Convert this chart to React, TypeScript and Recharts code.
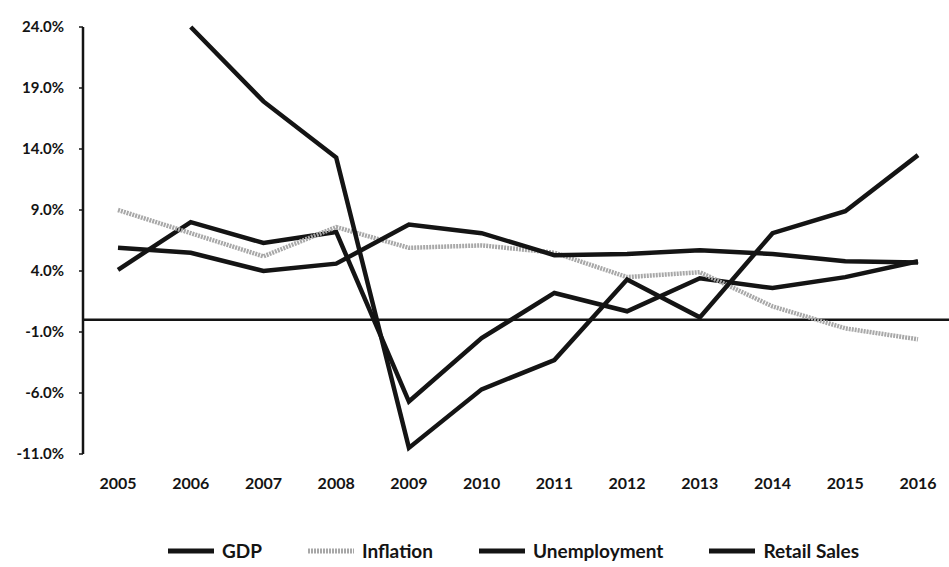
import React from "react";
import {
  LineChart,
  Line,
  XAxis,
  YAxis,
  Legend,
  ReferenceLine,
} from "recharts";

const years = ["2005", "2006", "2007", "2008", "2009", "2010", "2011", "2012", "2013", "2014", "2015", "2016"];
const gdp = [4.1, 8.0, 6.3, 7.2, -6.7, -1.5, 2.2, 0.7, 3.4, 2.6, 3.5, 4.8];
const inflation = [9.0, 7.1, 5.2, 7.6, 5.9, 6.1, 5.5, 3.5, 3.9, 1.1, -0.7, -1.6];
const unemployment = [5.9, 5.5, 4.0, 4.6, 7.8, 7.1, 5.3, 5.4, 5.7, 5.4, 4.8, 4.7];
const retailSales = [null, 24.0, 17.9, 13.3, -10.5, -5.7, -3.3, 3.3, 0.2, 7.1, 8.9, 13.5];
const yTicks = [-11, -6, -1, 4, 9, 14, 19, 24];

const data = years.map((year, i) => ({
  year,
  gdp: gdp[i],
  inflation: inflation[i],
  unemployment: unemployment[i],
  retailSales: retailSales[i],
}));

const FONT = "Lato, 'DejaVu Sans', sans-serif";
const INK = "#141414";

const series = [
  { key: "gdp", name: "GDP", color: INK, dash: undefined },
  { key: "inflation", name: "Inflation", color: "#a8a8a8", dash: "2 1" },
  { key: "unemployment", name: "Unemployment", color: INK, dash: undefined },
  { key: "retailSales", name: "Retail Sales", color: INK, dash: undefined },
];

function LegendContent() {
  return (
    <div
      style={{
        display: "flex",
        justifyContent: "center",
        gap: 46,
        fontFamily: FONT,
        fontSize: 19,
        fontWeight: 700,
        lineHeight: "24px",
        color: INK,
        paddingLeft: 78,
      }}
    >
      {series.map((s) => (
        <div key={s.key} style={{ display: "flex", alignItems: "center", gap: 8 }}>
          <svg width={46} height={8}>
            <line x1={0} y1={4} x2={46} y2={4} stroke={s.color} strokeWidth={5} strokeDasharray={s.dash} />
          </svg>
          <span>{s.name}</span>
        </div>
      ))}
    </div>
  );
}

export default function App() {
  return (
    <div style={{ position: "absolute", left: 0, top: 0, background: "#fff" }}>
      <LineChart width={949} height={567} data={data} margin={{ top: 27, right: 0, bottom: 4, left: 0 }}>
        <XAxis
          dataKey="year"
          axisLine={false}
          tickLine={false}
          tickSize={0}
          tickMargin={24}
          height={85}
          padding={{ left: 35, right: 31 }}
          tick={{ fill: INK, fontFamily: FONT, fontSize: 16, fontWeight: 700 }}
        />
        <YAxis
          width={83}
          domain={[-11, 24]}
          ticks={yTicks}
          interval={0}
          tickFormatter={(v: number) => `${v.toFixed(1)}%`}
          axisLine={{ stroke: INK, strokeWidth: 2.5 }}
          tickLine={{ stroke: INK, strokeWidth: 1.5 }}
          tickSize={4}
          tickMargin={15}
          tick={{ fill: INK, fontFamily: FONT, fontSize: 15, fontWeight: 700 }}
        />
        <ReferenceLine y={0} stroke={INK} strokeWidth={2.5} />
        {series.map((s) => (
          <Line
            key={s.key}
            type="linear"
            dataKey={s.key}
            name={s.name}
            stroke={s.color}
            strokeWidth={4.5}
            strokeDasharray={s.dash}
            dot={false}
            isAnimationActive={false}
          />
        ))}
        <Legend verticalAlign="bottom" content={<LegendContent />} />
      </LineChart>
    </div>
  );
}
